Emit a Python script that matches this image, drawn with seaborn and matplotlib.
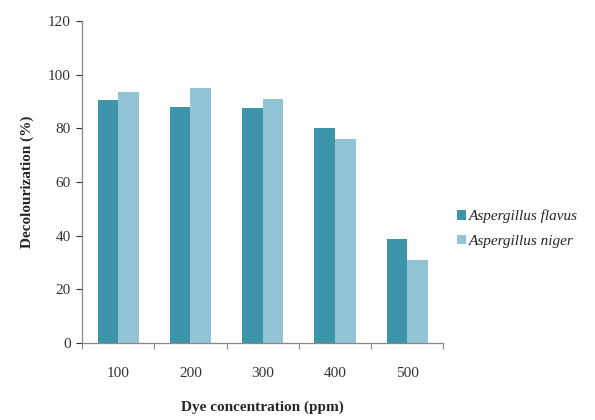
import numpy as np
import pandas as pd
import matplotlib
matplotlib.use("Agg")
import matplotlib.pyplot as plt
import seaborn as sns
from matplotlib.ticker import FixedLocator

concentrations = ["100", "200", "300", "400", "500"]
flavus = [90.6, 88.1, 87.7, 80.0, 38.9]
niger = [93.7, 94.9, 91.0, 76.0, 30.8]
species = ["Aspergillus flavus", "Aspergillus niger"]
colors = ["#3B94AA", "#93C4D6"]

df = pd.DataFrame({
    "conc": concentrations * 2,
    "value": flavus + niger,
    "species": [species[0]] * 5 + [species[1]] * 5,
})

sns.set_theme(style="white")
plt.rcParams['font.family'] = ['Liberation Serif', 'DejaVu Serif']

fig = plt.figure(figsize=(5.95, 4.2), dpi=100)
ax = fig.add_axes([0.138, 0.183, 0.607, 0.767])

sns.barplot(data=df, x="conc", y="value", hue="species", palette=colors,
            width=0.57, saturation=1, linewidth=0, ax=ax, legend=True)

ax.set_ylim(0, 120)
ax.set_xlim(-0.5, 4.5)
ax.set_yticks(np.arange(0, 121, 20))
ax.tick_params(axis="y", labelsize=11, colors="#333333", length=4, width=0.8,
               direction="out", left=True, pad=4)
ax.tick_params(axis="x", which="major", length=0, labelsize=11, colors="#333333", pad=17)
ax.xaxis.set_minor_locator(FixedLocator(np.arange(-0.5, 5, 1.0)))
ax.tick_params(axis="x", which="minor", bottom=True, length=4, width=0.8,
               color="#888888", direction="out")

for s in ["top", "right"]:
    ax.spines[s].set_visible(False)
for s in ["left", "bottom"]:
    ax.spines[s].set_color("#888888")
    ax.spines[s].set_linewidth(0.9)

ax.set_xlabel("Dye concentration (ppm)", fontsize=11, fontweight="bold", labelpad=15)
ax.set_ylabel("Decolourization (%)", fontsize=11, fontweight="bold", labelpad=10)

leg = ax.legend(loc="center left", bbox_to_anchor=(1.0, 0.355), frameon=False,
                prop={"style": "italic", "size": 11}, handlelength=0.6,
                handleheight=0.6, handletextpad=0.2, labelspacing=0.75)

fig.savefig("out.png", dpi=100)
